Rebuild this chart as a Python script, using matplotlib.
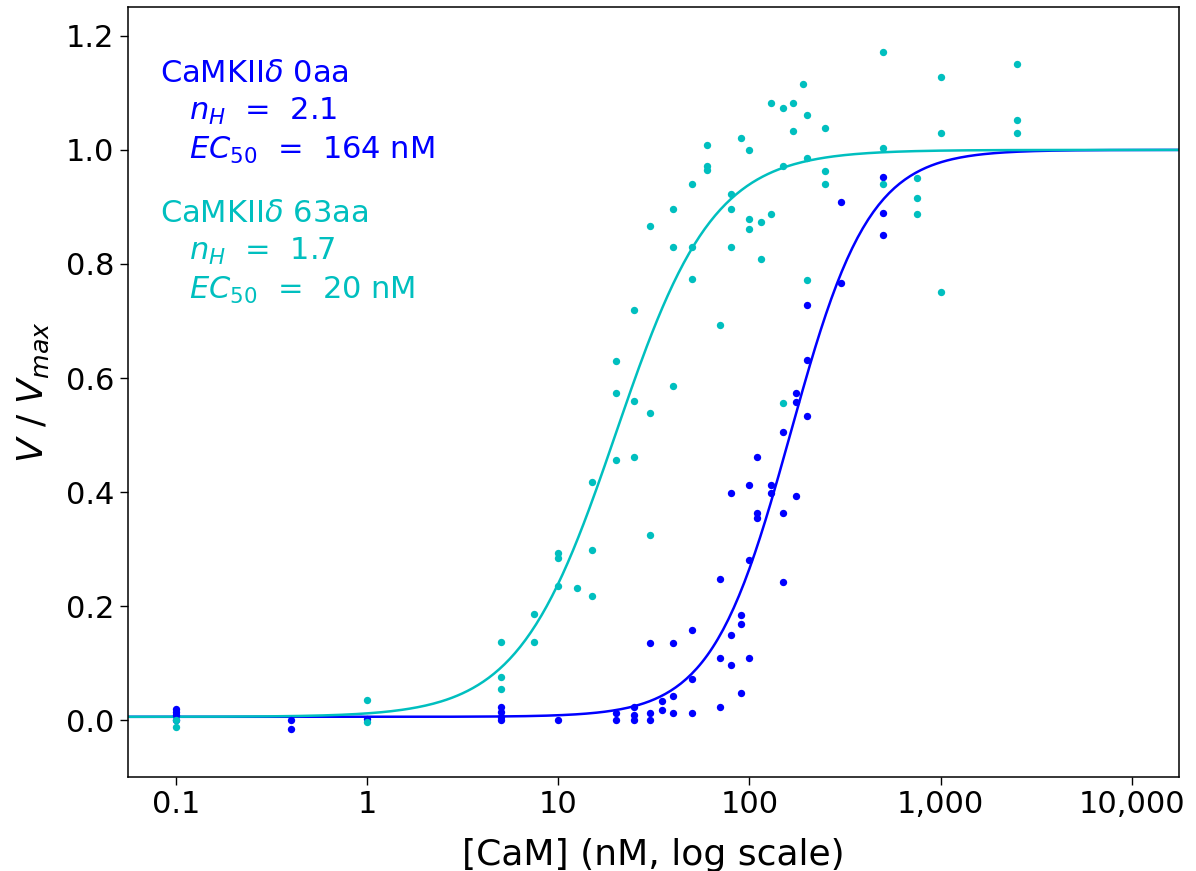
import numpy as np
import matplotlib
matplotlib.use("Agg")
import matplotlib.pyplot as plt
from matplotlib.ticker import FixedLocator, FuncFormatter, NullLocator

# CaMKIIdelta 0aa: [CaM] (nM) and normalised activity
conc_0aa = [0.1, 0.1, 0.1, 0.1, 0.4, 0.4, 1,
            5, 5, 5, 5, 10, 20, 20, 25, 25, 25, 30, 30, 30, 35, 35,
            40, 40, 40, 50, 50, 50, 70, 70, 70, 80, 80, 80, 90, 90, 90,
            100, 100, 100, 110, 110, 110, 130, 130, 150, 150, 150,
            175, 175, 175, 200, 200, 200, 300, 300, 500, 500, 500]
act_0aa = [0.020, 0.015, 0.010, 0.000, 0.000, -0.015, 0.002,
           0.024, 0.015, 0.006, 0.000, 0.000, 0.013, 0.000, 0.024, 0.009, 0.000,
           0.135, 0.013, 0.000, 0.033, 0.018,
           0.135, 0.043, 0.013, 0.159, 0.072, 0.013, 0.247, 0.110, 0.023,
           0.398, 0.150, 0.096, 0.184, 0.169, 0.047,
           0.412, 0.281, 0.110, 0.461, 0.364, 0.354, 0.412, 0.398,
           0.505, 0.364, 0.243, 0.573, 0.558, 0.393, 0.728, 0.631, 0.534,
           0.908, 0.767, 0.952, 0.889, 0.850]

# CaMKIIdelta 63aa
conc_63aa = [0.1, 0.1, 1, 1, 5, 5, 5, 7.5, 7.5, 10, 10, 10, 12.5,
             15, 15, 15, 20, 20, 20, 25, 25, 25, 30, 30, 30,
             40, 40, 40, 50, 50, 50, 60, 60, 60, 70, 80, 80, 80, 90,
             100, 100, 100, 115, 115, 130, 130, 150, 150, 150, 170, 170, 190,
             200, 200, 200, 250, 250, 250, 500, 500, 500, 750, 750, 750,
             1000, 1000, 1000, 2500, 2500, 2500]
act_63aa = [0.000, -0.012, 0.036, -0.003, 0.138, 0.076, 0.054, 0.187, 0.138,
            0.294, 0.284, 0.236, 0.232, 0.418, 0.298, 0.218,
            0.630, 0.573, 0.457, 0.719, 0.560, 0.462, 0.866, 0.538, 0.325,
            0.897, 0.830, 0.586, 0.941, 0.830, 0.773, 1.008, 0.972, 0.964,
            0.693, 0.923, 0.897, 0.830, 1.021,
            0.999, 0.879, 0.861, 0.874, 0.808, 1.083, 0.888,
            1.074, 0.972, 0.556, 1.083, 1.034, 1.115,
            1.061, 0.985, 0.772, 1.039, 0.963, 0.941,
            1.172, 1.004, 0.941, 0.950, 0.915, 0.888,
            1.127, 1.030, 0.750, 1.150, 1.052, 1.030]

# Hill fit parameters
n_0aa, ec50_0aa = 2.1, 164
n_63aa, ec50_63aa = 1.7, 20
bottom, top = 0.006, 1.0

xticks = [0.1, 1, 10, 100, 1000, 10000]


def hill(x, n, ec50):
    return bottom + (top - bottom) * x**n / (ec50**n + x**n)


fig = plt.figure(figsize=(11.96, 8.71), dpi=100)
ax = fig.add_axes([0.1068, 0.1076, 0.879, 0.884])

xlo, xhi = 0.0558, 17700
xs = np.logspace(np.log10(xlo), np.log10(xhi), 400)

ax.scatter(conc_0aa, act_0aa, s=28, color='b', linewidths=0, zorder=3)
ax.plot(xs, hill(xs, n_0aa, ec50_0aa), color='b', lw=1.8, zorder=2)
ax.scatter(conc_63aa, act_63aa, s=28, color='c', linewidths=0, zorder=3)
ax.plot(xs, hill(xs, n_63aa, ec50_63aa), color='c', lw=1.8, zorder=2)

ax.set_xscale('log')
ax.set_xlim(xlo, xhi)
ax.set_ylim(-0.1, 1.25)
ax.xaxis.set_major_locator(FixedLocator(xticks))
ax.xaxis.set_minor_locator(NullLocator())
ax.xaxis.set_major_formatter(FuncFormatter(lambda v, p: f"{v:,.0f}" if v >= 1 else f"{v:g}"))
ax.set_yticks(np.arange(0, 1.21, 0.2))
ax.tick_params(labelsize=22, length=6, width=1)
for sp in ax.spines.values():
    sp.set_linewidth(1.1)

ax.set_xlabel('[CaM] (nM, log scale)', fontsize=26, labelpad=13)
ax.set_ylabel('$V$ / $V_{max}$', fontsize=26, labelpad=11)

ax.text(0.031, 0.933, 'CaMKII$\\delta$ 0aa\n   $n_H$  =  2.1\n   $EC_{50}$  =  164 nM',
        transform=ax.transAxes, color='b', fontsize=22, va='top', linespacing=1.33)
ax.text(0.031, 0.751, 'CaMKII$\\delta$ 63aa\n   $n_H$  =  1.7\n   $EC_{50}$  =  20 nM',
        transform=ax.transAxes, color='c', fontsize=22, va='top', linespacing=1.33)

fig.savefig('out.png', dpi=100)
